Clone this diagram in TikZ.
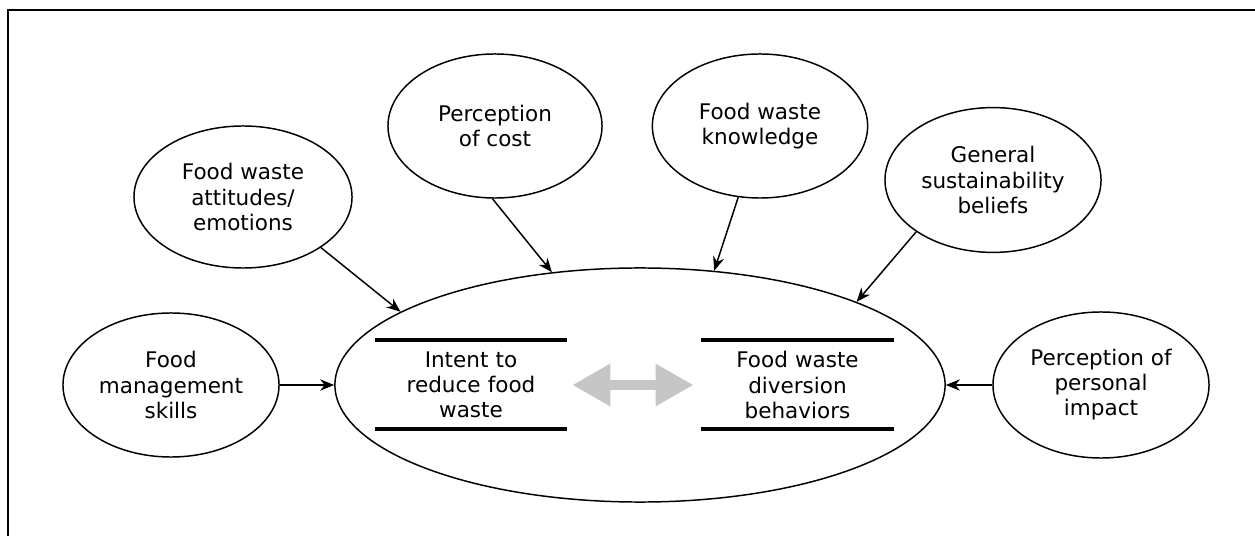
\documentclass[tikz,border=0pt]{standalone}
\usepackage{fontspec}
\setmainfont{DejaVu Sans}
\usepackage{tikz}
\usetikzlibrary{shapes.geometric}
\usetikzlibrary{arrows.meta}

\begin{document}
\begin{tikzpicture}[x=0.025cm,y=-0.025cm,
  factor/.style={draw, ellipse, line width=1.05pt, inner sep=0pt,
    minimum width=5.4cm, minimum height=3.6cm, align=center,
    font=\fontsize{15.3}{17.8}\selectfont},
  inner/.style={text width=4.8cm, inner sep=0pt, align=center,
    font=\fontsize{15.3}{17.8}\selectfont},
  link/.style={line width=1.05pt, -{Stealth[length=10pt,width=8pt]}},
  bar/.style={line width=2.2pt}]

\useasboundingbox (0,0) rectangle (1255,536);

% frame, top and left side only
\draw [line width=1.4pt] (8,536) -- (8,10) -- (1255,10);

% central ellipse
\node [factor, minimum width=15.25cm, minimum height=5.85cm] (core) at (640,385) {};

\node [inner] (intent) at (471,385) {Intent to\\reduce food\\waste};
\node [inner] (behav) at (797.5,385) {Food waste\\diversion\\behaviors};

\draw [bar] (375,340) -- (567,340);
\draw [bar] (375,429) -- (567,429);
\draw [bar] (701,340) -- (894,340);
\draw [bar] (701,429) -- (894,429);

\draw [color=gray!45, line width=0.23cm,
  {Triangle[length=0.95cm,width=1cm]}-{Triangle[length=0.95cm,width=1cm]},
  shorten <=0.125cm, shorten >=0.19cm] (intent.east) -- (behav.west);

% outer factors
\node [factor] (mgmt) at (171,385) {Food\\management\\skills};
\node [factor, minimum width=5.45cm, minimum height=3.55cm] (attit) at (243,197) {Food waste\\attitudes/\\emotions};
\node [factor, minimum width=5.35cm] (cost) at (495,126) {Perception\\of cost};
\node [factor, minimum width=5.38cm] (know) at (760,126) {Food waste\\knowledge};
\node [factor, minimum height=3.62cm] (gener) at (993,180) {General\\sustainability\\beliefs};
\node [factor, minimum height=3.65cm] (impact) at (1101,385) {Perception of\\personal\\impact};

\draw [link] (mgmt.east) -- (core.west);
\draw [link] (attit.-33.5) -- (core.163);
\draw [link] (cost.-92) -- (core.128);
\draw [link] (know.-107.5) -- (core.57);
\draw [link] (gener.-146) -- (core.21);
\draw [link] (impact.west) -- (core.east);

\end{tikzpicture}
\end{document}
